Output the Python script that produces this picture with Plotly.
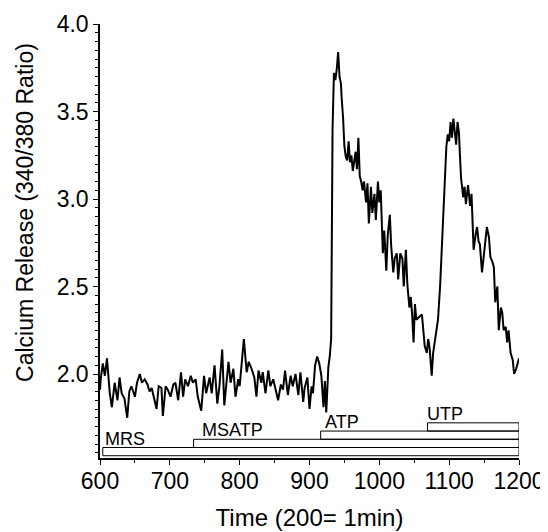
import plotly.graph_objects as go

# ---- data ----
time = [600, 601, 604, 607, 610, 614, 617, 621, 625, 628, 631, 635, 639, 642, 645, 650, 653, 657, 660, 664,
        668, 671, 674, 677, 681, 684, 688, 690, 694, 697, 701, 705, 708, 712, 716, 719, 722, 726, 730, 733,
        737, 740, 745, 749, 752, 757, 760, 764, 768, 771, 775, 778, 781, 784, 787, 791, 794, 798, 800, 803,
        806, 810, 813, 817, 821, 824, 827, 831, 833, 837, 841, 844, 848, 851, 855, 859, 862, 865, 869, 873,
        876, 880, 884, 887, 891, 893, 897, 900, 903, 905, 908, 911, 914, 917, 920, 922, 924, 927, 929, 931,
        932, 933, 935, 937, 939, 941, 943, 945, 946, 948, 950, 952, 954, 956, 958, 960, 962, 964, 966, 968,
        970, 972, 974, 976, 978, 981, 983, 985, 988, 990, 993, 995, 998, 1000, 1002, 1005, 1007, 1010, 1012, 1015,
        1017, 1020, 1022, 1025, 1027, 1030, 1033, 1035, 1038, 1040, 1043, 1045, 1047, 1049, 1051, 1053, 1055, 1058, 1061, 1063,
        1065, 1068, 1070, 1072, 1075, 1077, 1079, 1081, 1084, 1087, 1090, 1092, 1094, 1096, 1098, 1100, 1102, 1104, 1106, 1108,
        1110, 1112, 1114, 1116, 1117, 1119, 1120, 1122, 1124, 1127, 1130, 1132, 1133, 1135, 1138, 1140, 1142, 1144, 1147, 1150,
        1152, 1154, 1157, 1159, 1162, 1164, 1166, 1169, 1171, 1174, 1176, 1178, 1181, 1183, 1185, 1188, 1191, 1193, 1196, 1199,
        1200]
ratio = [1.91, 1.97, 2.06, 1.99, 2.09, 1.89, 1.81, 1.95, 1.85, 1.98, 1.89, 1.86, 1.75, 1.90, 1.93, 1.87, 1.95, 2.00, 1.95, 1.97,
         1.94, 1.90, 1.92, 1.87, 1.80, 1.93, 1.92, 1.76, 1.93, 1.91, 1.87, 1.94, 1.95, 1.85, 2.01, 1.87, 1.97, 1.93, 1.99, 1.95,
         1.97, 1.87, 1.79, 1.99, 1.89, 1.98, 1.89, 2.05, 1.83, 1.93, 2.14, 1.82, 1.97, 2.07, 1.95, 2.03, 1.87, 1.97, 1.93, 2.06,
         2.20, 2.01, 2.07, 2.03, 1.98, 1.87, 2.02, 1.95, 2.01, 1.89, 2.02, 1.93, 1.97, 1.92, 1.85, 1.94, 1.91, 2.02, 1.88, 1.99,
         1.93, 2.00, 1.88, 2.01, 1.84, 1.92, 1.98, 1.80, 1.93, 1.89, 2.05, 2.10, 2.06, 1.99, 1.81, 1.96, 1.78, 2.04, 2.10, 2.20,
         2.75, 3.40, 3.72, 3.68, 3.74, 3.84, 3.70, 3.66, 3.58, 3.47, 3.30, 3.24, 3.22, 3.33, 3.21, 3.25, 3.16, 3.22, 3.27, 3.17,
         3.35, 3.13, 3.10, 3.05, 3.10, 2.98, 3.09, 2.86, 3.07, 2.92, 3.03, 2.88, 3.10, 2.98, 3.05, 2.69, 2.82, 2.59, 2.79, 2.91,
         2.73, 2.58, 2.66, 2.69, 2.54, 2.69, 2.66, 2.50, 2.71, 2.52, 2.38, 2.44, 2.34, 2.18, 2.40, 2.31, 2.32, 2.33, 2.34, 2.22,
         2.16, 2.12, 2.20, 2.15, 1.99, 2.12, 2.18, 2.25, 2.31, 2.50, 2.78, 2.88, 3.10, 3.30, 3.37, 3.33, 3.44, 3.35, 3.46, 3.40,
         3.31, 3.44, 3.38, 3.20, 3.12, 3.05, 3.01, 3.07, 2.97, 3.08, 2.96, 3.03, 2.92, 2.71, 2.80, 2.84, 2.76, 2.74, 2.58, 2.69,
         2.75, 2.84, 2.78, 2.67, 2.64, 2.61, 2.41, 2.50, 2.25, 2.38, 2.35, 2.25, 2.27, 2.18, 2.25, 2.12, 2.08, 2.00, 2.03, 2.08,
         2.09]

bar_labels = ["MRS", "MSATP", "ATP", "UTP"]
bar_starts = [604, 734, 916, 1069]
bar_end = 1200

x_ticks = [600, 700, 800, 900, 1000, 1100, 1200]
y_ticks = [2.0, 2.5, 3.0, 3.5, 4.0]
y_tick_text = ["2.0", "2.5", "3.0", "3.5", "4.0"]

FONT = "Liberation Sans, Arial, Helvetica, sans-serif"
label_dx = [0, 6, 2, -3]  # pixel nudges of the bar labels (style only)

fig = go.Figure()
fig.add_trace(go.Scatter(x=time, y=ratio, mode="lines",
                         line=dict(color="black", width=2), showlegend=False))

# stacked stimulus bars
bar_bottom0 = 1.533
bar_h = 0.047
for i, (lab, xs) in enumerate(zip(bar_labels, bar_starts)):
    y0 = bar_bottom0 + i * bar_h
    y1 = y0 + bar_h
    fig.add_shape(type="rect", x0=xs, x1=bar_end, y0=y0, y1=y1,
                  line=dict(color="black", width=1), fillcolor="rgba(0,0,0,0)")
    fig.add_annotation(x=xs, y=y1, text=lab, showarrow=False, xanchor="left", yanchor="bottom",
                       xshift=label_dx[i], yshift=-3, font=dict(family=FONT, size=18, color="black"))

# y-axis title as annotation (positioned as in reference)
fig.add_annotation(xref="paper", yref="paper", x=-0.179, y=0.567, text="Calcium Release (340/380 Ratio)",
                   textangle=-90, showarrow=False, xanchor="center", yanchor="middle",
                   font=dict(family=FONT, size=23, color="black"))

fig.update_xaxes(range=[600, 1200], tickmode="array", tickvals=x_ticks, automargin=False,
                 ticks="outside", ticklen=5, tickwidth=1.2, tickcolor="black",
                 minor=dict(dtick=50, tick0=0, ticks="outside", ticklen=3, tickcolor="black", tickwidth=1),
                 showline=True, linecolor="black", linewidth=1.5, showgrid=False, zeroline=False,
                 tickfont=dict(family=FONT, size=23, color="black"),
                 ticklabelstandoff=-3,
                 title=dict(text="Time (200= 1min)", font=dict(family=FONT, size=24, color="black"), standoff=16))
fig.update_yaxes(range=[1.52, 4.0], tickmode="array", tickvals=y_ticks, ticktext=y_tick_text, automargin=False,
                 ticks="outside", ticklen=5, tickwidth=1.2, tickcolor="black",
                 minor=dict(dtick=0.05, tick0=0, ticks="outside", ticklen=3, tickcolor="black", tickwidth=1),
                 showline=True, linecolor="black", linewidth=1.5, showgrid=False, zeroline=False,
                 tickfont=dict(family=FONT, size=23, color="black"))

# the page places the figure 8px in from the top-left corner; size/margins compensate for that
fig.update_layout(width=540, height=524, plot_bgcolor="white", paper_bgcolor="white",
                  margin=dict(l=92, r=29, t=16, b=74), showlegend=False)

fig.write_html("out.html")
